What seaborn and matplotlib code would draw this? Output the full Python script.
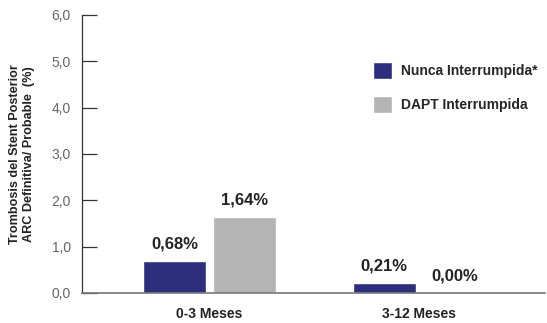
import matplotlib
matplotlib.use("Agg")
import matplotlib.pyplot as plt
import matplotlib.ticker as mticker
import seaborn as sns
import pandas as pd

periods = ["0-3 Meses", "3-12 Meses"]
groups = ["Nunca Interrumpida*", "DAPT Interrumpida"]
nunca_values = [0.68, 0.21]
dapt_values = [1.64, 0.00]
y_ticks = [0, 1, 2, 3, 4, 5, 6]
colors = ["#2e2e7e", "#b4b4b4"]

df = pd.DataFrame({
    "period": periods * 2,
    "group": [groups[0]] * 2 + [groups[1]] * 2,
    "value": nunca_values + dapt_values,
})

sns.set_style("white")
plt.rcParams["font.family"] = ["Liberation Sans", "DejaVu Sans"]

fig = plt.figure(figsize=(5.47, 3.23), dpi=100)
ax = fig.add_axes([0.150, 0.093, 0.846, 0.861])

sns.barplot(data=df, x="period", y="value", hue="group", order=periods,
            hue_order=groups, palette=colors, width=0.667, gap=0.1,
            saturation=1, ax=ax, legend=True, errorbar=None)

ax.set_xlim(-0.607, 1.598)
ax.set_ylim(0, 6)
ax.set_yticks(y_ticks)
ax.yaxis.set_major_formatter(mticker.FuncFormatter(lambda v, p: f"{v:.1f}".replace(".", ",")))
ax.tick_params(axis="y", direction="in", length=10.8, width=0.9, color="#333333",
               labelsize=10, labelcolor="#666666", pad=8, left=True)
ax.tick_params(axis="x", length=0, labelsize=10, pad=10)
for lbl in ax.get_xticklabels():
    lbl.set_fontweight("bold")
    lbl.set_color("#222222")

for side in ["top", "right"]:
    ax.spines[side].set_visible(False)
ax.spines["left"].set_color("#333333")
ax.spines["left"].set_linewidth(0.9)
ax.spines["bottom"].set_color("#777777")
ax.spines["bottom"].set_linewidth(1.2)

ax.set_xlabel("")
ax.set_ylabel("Trombosis del Stent Posterior\nARC Definitiva/ Probable  (%)",
              fontsize=9.1, fontweight="bold", color="#222222", labelpad=12,
              linespacing=1.2)

for container in ax.containers:
    labels = [f"{v:.2f}".replace(".", ",") + "%" for v in container.datavalues]
    ax.bar_label(container, labels=labels, padding=7, fontsize=12,
                 fontweight="bold", color="#222222")

handles, _ = ax.get_legend_handles_labels()
ax.legend(handles, groups, loc="upper left", bbox_to_anchor=(0.601, 0.875),
          frameon=False, handlelength=1.37, handleheight=1.5,
          labelspacing=1.2, handletextpad=0.65,
          prop={"weight": "bold", "size": 10})

fig.savefig("out.png", dpi=100)
